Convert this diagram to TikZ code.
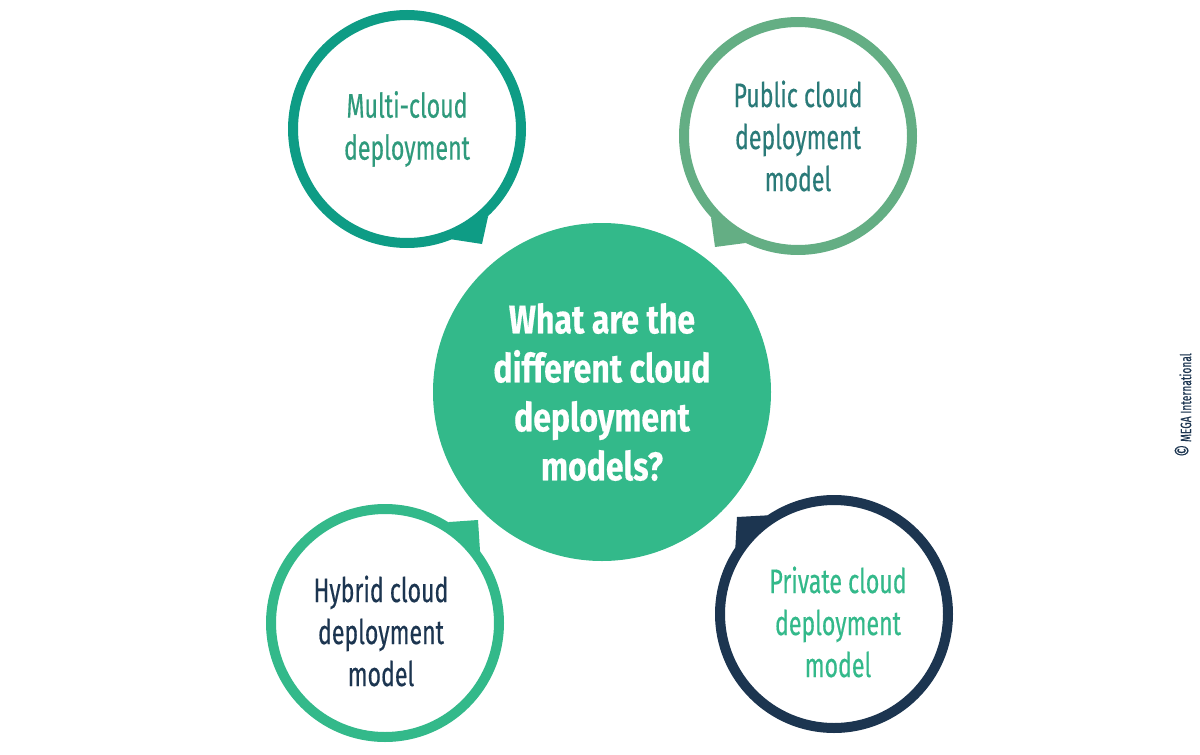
\documentclass[tikz,border=0pt]{standalone}
\usepackage{fontspec}
\setmainfont{Fira Sans}[FakeStretch=0.68, FakeBold=0.4, BoldFont={Fira Sans Bold}, BoldFeatures={FakeStretch=0.8}]
\usetikzlibrary{backgrounds}

\definecolor{midgreen}{HTML}{33B98A}
\definecolor{tealring}{HTML}{0E9C85}
\definecolor{tealtext}{HTML}{2F9A7C}
\definecolor{sagering}{HTML}{64AE84}
\definecolor{sagetext}{HTML}{2A7A78}
\definecolor{navy}{HTML}{1C3550}

\tikzset{
  bubble/.style={circle, draw=#1, fill=white, line width=10pt, inner sep=0pt, minimum size=228pt},
  bubbletext/.style={align=center, font=\fontsize{34}{42}\selectfont},
}

\begin{document}
\begin{tikzpicture}[x=1pt, y=-1pt]
        \useasboundingbox (0,0) rectangle (1200,755);

        % question in the middle
        \node[circle, fill=midgreen, minimum size=338pt, inner sep=0pt, align=center,
              text=white, font=\bfseries\fontsize{40}{49}\selectfont] (question) at (602,392)
              {What are the\\different cloud\\deployment\\models?};

        % the four models
        \node[bubble=tealring] (multi) at (407,129) {};
        \node[bubble=sagering] (public) at (798,136) {};
        \node[bubble=midgreen] (hybrid) at (385,623) {};
        \node[bubble=navy] (private) at (834,614) {};

        \node[bubbletext, text=tealtext] (multitext) at (multi) {Multi-cloud\\deployment};
        \node[bubbletext, text=sagetext] (publictext) at (public) {Public cloud\\deployment\\model};
        \node[bubbletext, text=navy] (hybridtext) at ([shift={(-4,8)}]hybrid) {Hybrid cloud\\deployment\\model};
        \node[bubbletext, text=midgreen] (privatetext) at ([shift={(4,8)}]private) {Private cloud\\deployment\\model};

        % tails pointing at the question
        \begin{scope}[on background layer]
            \fill[tealring] (multi.-68) -- (482,244) -- (multi.-47) -- cycle;
            \fill[sagering] (public.-137) -- (715,247) -- (public.-116) -- cycle;
            \fill[midgreen] (hybrid.58) -- (478,520) -- (hybrid.37) -- cycle;
            \fill[navy] (private.124) -- (737,517) -- (private.146) -- cycle;
        \end{scope}

        \node[rotate=90, text=navy, font=\fontsize{15}{17}\selectfont] (credit) at (1183,405)
              {{\fontsize{22}{22}\selectfont ©} MEGA International};
    \end{tikzpicture}
\end{document}
